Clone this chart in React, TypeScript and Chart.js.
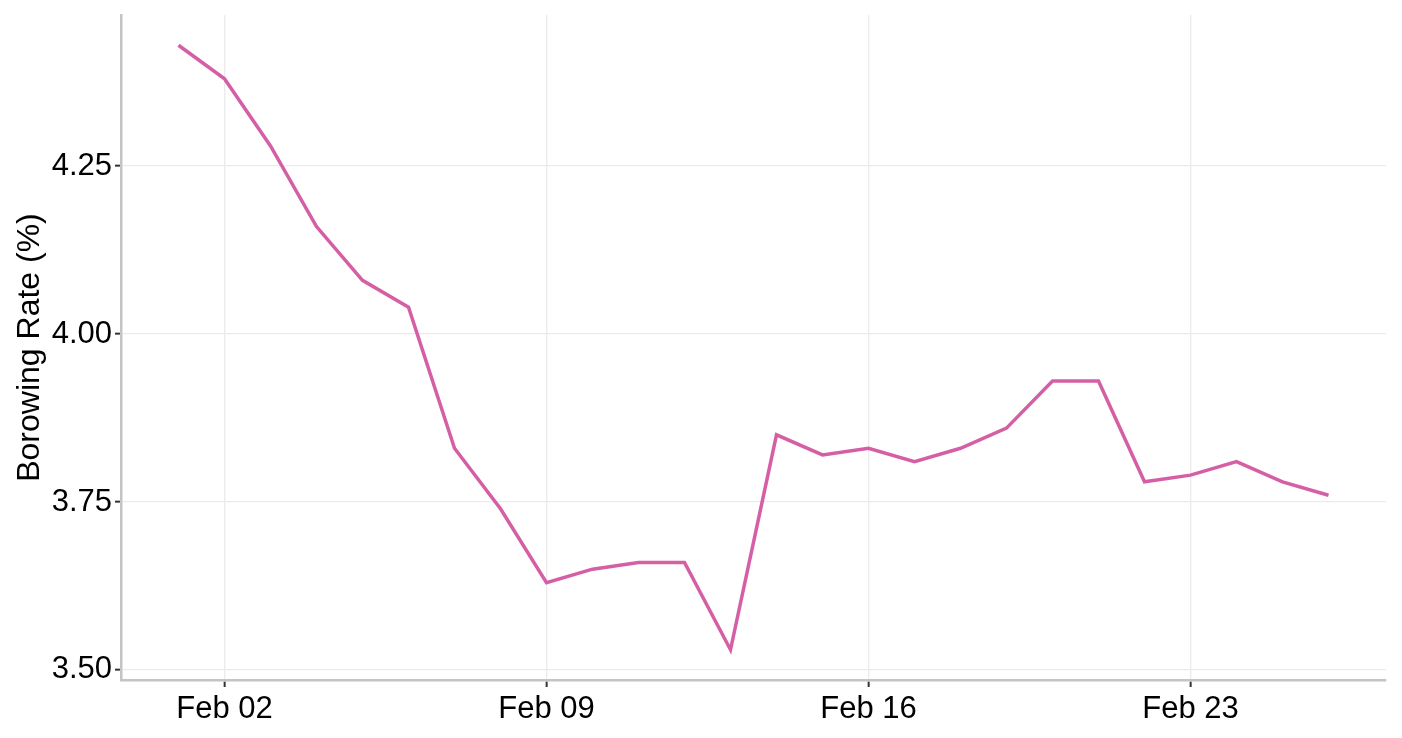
import React, { useEffect, useRef } from "react";
import { Chart, registerables } from "chart.js";

Chart.register(...registerables);

// Day of month (February)
const days: number[] = [1, 2, 3, 4, 5, 6, 7, 8, 9, 10, 11, 12, 13, 14, 15, 16, 17, 18, 19, 20, 21, 22, 23, 24, 25, 26];
const rates: number[] = [4.43, 4.38, 4.28, 4.16, 4.08, 4.04, 3.83, 3.74, 3.63, 3.65, 3.66, 3.66, 3.53, 3.85, 3.82, 3.83, 3.81, 3.83, 3.86, 3.93, 3.93, 3.78, 3.79, 3.81, 3.78, 3.76];
const xTickDays: number[] = [2, 9, 16, 23];
const xTickLabels: string[] = ["Feb 02", "Feb 09", "Feb 16", "Feb 23"];
const yTicks: number[] = [3.5, 3.75, 4.0, 4.25];
const yTitle = "Borowing Rate (%)";

const FONT = "'Liberation Sans', Arial, Helvetica, sans-serif";

export default function App() {
  const ref = useRef<HTMLCanvasElement | null>(null);

  useEffect(() => {
    if (!ref.current) return;
    const dMin = Math.min(...days), dMax = Math.max(...days);
    const xPad = (dMax - dMin) * 0.05;
    const rMin = Math.min(...rates), rMax = Math.max(...rates);
    const yPad = (rMax - rMin) * 0.05;

    const chart = new Chart(ref.current, {
      type: "line",
      data: {
        datasets: [
          {
            data: days.map((d, i) => ({ x: d, y: rates[i] })),
            borderColor: "#d55fa5",
            borderWidth: 3.5,
            pointRadius: 0,
            tension: 0,
            fill: false,
          },
        ],
      },
      options: {
        responsive: false,
        animation: false,
        devicePixelRatio: 1,
        layout: { padding: { top: 15, right: 16, left: 0, bottom: 0 } },
        plugins: { legend: { display: false }, tooltip: { enabled: false } },
        scales: {
          x: {
            type: "linear",
            min: dMin - xPad,
            max: dMax + xPad,
            afterBuildTicks: (s: any) => {
              s.ticks = xTickDays.map((v) => ({ value: v }));
            },
            afterFit: (s: any) => {
              s.height = 58;
              s.paddingLeft = 0;
              s.paddingRight = 0;
            },
            ticks: {
              color: "#000",
              font: { family: FONT, size: 31 },
              padding: 4,
              maxRotation: 0,
              autoSkip: false,
              callback: (v: any) => {
                const i = xTickDays.indexOf(Number(v));
                return i >= 0 ? xTickLabels[i] : "";
              },
            },
            grid: {
              color: "#ebebeb",
              lineWidth: 1.3,
              tickColor: "#333333",
              tickLength: 7,
              tickWidth: 2,
            },
            border: { color: "#c4c4c4", width: 2.5 },
          },
          y: {
            type: "linear",
            min: rMin - yPad,
            max: rMax + yPad,
            afterBuildTicks: (s: any) => {
              s.ticks = yTicks.map((v) => ({ value: v }));
            },
            afterFit: (s: any) => {
              s.width = 121;
              s.paddingTop = 0;
              s.paddingBottom = 0;
            },
            ticks: {
              color: "#000",
              font: { family: FONT, size: 31 },
              padding: 3,
              callback: (v: any) => Number(v).toFixed(2),
            },
            grid: {
              color: "#ebebeb",
              lineWidth: 1.3,
              tickColor: "#333333",
              tickLength: 6,
              tickWidth: 2,
            },
            border: { color: "#c4c4c4", width: 2.5 },
            title: {
              display: true,
              text: yTitle,
              color: "#000",
              font: { family: FONT, size: 32 },
              padding: { top: 11, bottom: 0 },
            },
          },
        },
      },
    });
    return () => chart.destroy();
  }, []);

  return (
    <div style={{ position: "absolute", left: 0, top: 0, width: 1402, height: 738, background: "#fff" }}>
      <canvas ref={ref} width={1402} height={738} style={{ width: 1402, height: 738 }} />
    </div>
  );
}
